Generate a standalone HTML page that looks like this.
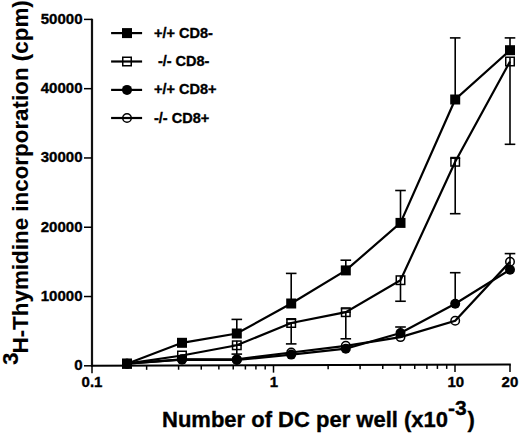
<!DOCTYPE html><html><head><meta charset="utf-8"><style>html,body{margin:0;padding:0;background:#fff;}svg{display:block;}text{font-family:"Liberation Sans",sans-serif;font-weight:bold;fill:#000;stroke:#000;stroke-width:0.35px;}</style></head><body>
<svg width="520" height="433" viewBox="0 0 520 433">
<rect width="520" height="433" fill="#fff"/>
<line x1="92.0" y1="18.7" x2="92.0" y2="366.80" stroke="#111" stroke-width="2.2"/>
<line x1="91.0" y1="365.80" x2="510.8" y2="364.50" stroke="#000" stroke-width="2.0"/>
<g stroke="#000" stroke-width="1.5">
<line x1="84.0" y1="365.80" x2="92.0" y2="365.80"/>
<line x1="84.0" y1="296.52" x2="92.0" y2="296.52"/>
<line x1="84.0" y1="227.24" x2="92.0" y2="227.24"/>
<line x1="84.0" y1="157.96" x2="92.0" y2="157.96"/>
<line x1="84.0" y1="88.68" x2="92.0" y2="88.68"/>
<line x1="84.0" y1="19.40" x2="92.0" y2="19.40"/>
</g>
<g stroke="#000" stroke-width="1.5">
<line x1="92.00" y1="365.80" x2="92.00" y2="373.20"/>
<line x1="146.64" y1="365.63" x2="146.64" y2="369.83"/>
<line x1="178.60" y1="365.53" x2="178.60" y2="369.73"/>
<line x1="201.27" y1="365.46" x2="201.27" y2="369.66"/>
<line x1="218.86" y1="365.40" x2="218.86" y2="369.60"/>
<line x1="233.23" y1="365.36" x2="233.23" y2="369.56"/>
<line x1="245.39" y1="365.32" x2="245.39" y2="369.52"/>
<line x1="255.91" y1="365.29" x2="255.91" y2="369.49"/>
<line x1="265.20" y1="365.26" x2="265.20" y2="369.46"/>
<line x1="273.50" y1="365.24" x2="273.50" y2="372.64"/>
<line x1="328.14" y1="365.07" x2="328.14" y2="369.27"/>
<line x1="360.10" y1="364.97" x2="360.10" y2="369.17"/>
<line x1="382.77" y1="364.90" x2="382.77" y2="369.10"/>
<line x1="400.36" y1="364.84" x2="400.36" y2="369.04"/>
<line x1="414.73" y1="364.80" x2="414.73" y2="369.00"/>
<line x1="426.89" y1="364.76" x2="426.89" y2="368.96"/>
<line x1="437.41" y1="364.73" x2="437.41" y2="368.93"/>
<line x1="446.70" y1="364.70" x2="446.70" y2="368.90"/>
<line x1="455.00" y1="364.67" x2="455.00" y2="372.07"/>
<line x1="510.00" y1="364.50" x2="510.00" y2="371.90"/>
</g>
<text x="82.5" y="370.20" font-size="15" text-anchor="end">0</text>
<text x="82.5" y="300.92" font-size="15" text-anchor="end">10000</text>
<text x="82.5" y="231.64" font-size="15" text-anchor="end">20000</text>
<text x="82.5" y="162.36" font-size="15" text-anchor="end">30000</text>
<text x="82.5" y="93.08" font-size="15" text-anchor="end">40000</text>
<text x="82.5" y="23.80" font-size="15" text-anchor="end">50000</text>
<text x="92.00" y="387.3" font-size="15" text-anchor="middle">0.1</text>
<text x="274.00" y="387.3" font-size="15" text-anchor="middle">1</text>
<text x="455.80" y="387.3" font-size="15" text-anchor="middle">10</text>
<text x="509.94" y="387.3" font-size="15" text-anchor="middle">20</text>
<text x="162" y="427.3" font-size="22">Number of DC per well (x10<tspan dy="-12" font-size="21">-3</tspan><tspan dy="12" dx="0.8">)</tspan></text>
<text transform="translate(28.3,364.9) rotate(-90)" font-size="22.4" style="stroke-width:0.1px"><tspan dy="-10.5">3</tspan><tspan dy="10.5" dx="-1.05">H-Thymidine incorporation (cpm)</tspan></text>
<line x1="236.80" y1="333.50" x2="236.80" y2="319.40" stroke="#000" stroke-width="1.6"/><line x1="231.50" y1="319.40" x2="242.10" y2="319.40" stroke="#000" stroke-width="1.6"/>
<line x1="291.20" y1="303.50" x2="291.20" y2="273.40" stroke="#000" stroke-width="1.6"/><line x1="285.90" y1="273.40" x2="296.50" y2="273.40" stroke="#000" stroke-width="1.6"/>
<line x1="345.80" y1="270.40" x2="345.80" y2="260.20" stroke="#000" stroke-width="1.6"/><line x1="340.50" y1="260.20" x2="351.10" y2="260.20" stroke="#000" stroke-width="1.6"/>
<line x1="400.50" y1="222.90" x2="400.50" y2="190.50" stroke="#000" stroke-width="1.6"/><line x1="395.20" y1="190.50" x2="405.80" y2="190.50" stroke="#000" stroke-width="1.6"/>
<line x1="455.20" y1="99.50" x2="455.20" y2="37.90" stroke="#000" stroke-width="1.6"/><line x1="449.90" y1="37.90" x2="460.50" y2="37.90" stroke="#000" stroke-width="1.6"/>
<line x1="510.00" y1="50.20" x2="510.00" y2="37.90" stroke="#000" stroke-width="1.6"/><line x1="504.70" y1="37.90" x2="515.30" y2="37.90" stroke="#000" stroke-width="1.6"/>
<line x1="236.80" y1="340.80" x2="236.80" y2="354.10" stroke="#000" stroke-width="1.6"/><line x1="231.50" y1="354.10" x2="242.10" y2="354.10" stroke="#000" stroke-width="1.6"/>
<line x1="291.20" y1="323.00" x2="291.20" y2="343.90" stroke="#000" stroke-width="1.6"/><line x1="285.90" y1="343.90" x2="296.50" y2="343.90" stroke="#000" stroke-width="1.6"/>
<line x1="345.80" y1="312.20" x2="345.80" y2="338.80" stroke="#000" stroke-width="1.6"/><line x1="340.50" y1="338.80" x2="351.10" y2="338.80" stroke="#000" stroke-width="1.6"/>
<line x1="400.50" y1="275.70" x2="400.50" y2="301.25" stroke="#000" stroke-width="1.6"/><line x1="395.20" y1="301.25" x2="405.80" y2="301.25" stroke="#000" stroke-width="1.6"/>
<line x1="455.20" y1="157.30" x2="455.20" y2="213.70" stroke="#000" stroke-width="1.6"/><line x1="449.90" y1="213.70" x2="460.50" y2="213.70" stroke="#000" stroke-width="1.6"/>
<line x1="510.00" y1="57.00" x2="510.00" y2="144.30" stroke="#000" stroke-width="1.6"/><line x1="504.70" y1="144.30" x2="515.30" y2="144.30" stroke="#000" stroke-width="1.6"/>
<line x1="286.20" y1="319.60" x2="296.20" y2="319.60" stroke="#000" stroke-width="1.1"/>
<line x1="340.80" y1="308.80" x2="350.80" y2="308.80" stroke="#000" stroke-width="1.1"/>
<line x1="450.20" y1="158.40" x2="460.20" y2="158.40" stroke="#000" stroke-width="1.1"/>
<line x1="231.80" y1="345.30" x2="241.80" y2="345.30" stroke="#000" stroke-width="1.4"/>
<line x1="286.20" y1="323.00" x2="296.20" y2="323.00" stroke="#000" stroke-width="1.4"/>
<line x1="340.80" y1="312.20" x2="350.80" y2="312.20" stroke="#000" stroke-width="1.4"/>
<line x1="400.50" y1="333.00" x2="400.50" y2="327.00" stroke="#000" stroke-width="1.6"/><line x1="395.20" y1="327.00" x2="405.80" y2="327.00" stroke="#000" stroke-width="1.6"/>
<line x1="455.20" y1="303.70" x2="455.20" y2="272.70" stroke="#000" stroke-width="1.6"/><line x1="449.90" y1="272.70" x2="460.50" y2="272.70" stroke="#000" stroke-width="1.6"/>
<line x1="510.00" y1="269.70" x2="510.00" y2="253.60" stroke="#000" stroke-width="1.6"/><line x1="504.70" y1="253.60" x2="515.30" y2="253.60" stroke="#000" stroke-width="1.6"/>
<polyline points="127.00,363.70 182.00,359.30 236.80,359.40 291.20,352.50 345.80,345.80 400.50,337.10 455.20,320.80 510.00,261.80" fill="none" stroke="#000" stroke-width="2.2" stroke-linejoin="miter"/>
<polyline points="127.00,363.70 182.00,359.60 236.80,360.00 291.20,354.60 345.80,348.70 400.50,333.00 455.20,303.70 510.00,269.70" fill="none" stroke="#000" stroke-width="2.2" stroke-linejoin="miter"/>
<polyline points="127.00,363.70 182.00,355.50 236.80,345.30 291.20,323.00 345.80,312.20 400.50,280.20 455.20,161.80 510.00,61.50" fill="none" stroke="#000" stroke-width="2.2" stroke-linejoin="miter"/>
<polyline points="127.00,363.70 182.00,342.80 236.80,333.50 291.20,303.50 345.80,270.40 400.50,222.90 455.20,99.50 510.00,50.20" fill="none" stroke="#000" stroke-width="2.2" stroke-linejoin="miter"/>
<circle cx="127.00" cy="363.70" r="4.25" fill="none" stroke="#000" stroke-width="1.5"/>
<circle cx="182.00" cy="359.30" r="4.25" fill="none" stroke="#000" stroke-width="1.5"/>
<circle cx="236.80" cy="359.40" r="4.25" fill="none" stroke="#000" stroke-width="1.5"/>
<circle cx="291.20" cy="352.50" r="4.25" fill="none" stroke="#000" stroke-width="1.5"/>
<circle cx="345.80" cy="345.80" r="4.25" fill="none" stroke="#000" stroke-width="1.5"/>
<circle cx="400.50" cy="337.10" r="4.25" fill="none" stroke="#000" stroke-width="1.5"/>
<circle cx="455.20" cy="320.80" r="4.25" fill="none" stroke="#000" stroke-width="1.5"/>
<circle cx="510.00" cy="261.80" r="4.25" fill="none" stroke="#000" stroke-width="1.5"/>
<circle cx="127.00" cy="363.70" r="5.0" fill="#000"/>
<circle cx="182.00" cy="359.60" r="5.0" fill="#000"/>
<circle cx="236.80" cy="360.00" r="5.0" fill="#000"/>
<circle cx="291.20" cy="354.60" r="5.0" fill="#000"/>
<circle cx="345.80" cy="348.70" r="5.0" fill="#000"/>
<circle cx="400.50" cy="333.00" r="5.0" fill="#000"/>
<circle cx="455.20" cy="303.70" r="5.0" fill="#000"/>
<circle cx="510.00" cy="269.70" r="5.0" fill="#000"/>
<rect x="122.75" y="359.45" width="8.5" height="8.5" fill="none" stroke="#000" stroke-width="1.5"/>
<rect x="177.75" y="351.25" width="8.5" height="8.5" fill="none" stroke="#000" stroke-width="1.5"/>
<rect x="232.55" y="341.05" width="8.5" height="8.5" fill="none" stroke="#000" stroke-width="1.5"/>
<rect x="286.95" y="318.75" width="8.5" height="8.5" fill="none" stroke="#000" stroke-width="1.5"/>
<rect x="341.55" y="307.95" width="8.5" height="8.5" fill="none" stroke="#000" stroke-width="1.5"/>
<rect x="396.25" y="275.95" width="8.5" height="8.5" fill="none" stroke="#000" stroke-width="1.5"/>
<rect x="450.95" y="157.55" width="8.5" height="8.5" fill="none" stroke="#000" stroke-width="1.5"/>
<rect x="505.75" y="57.25" width="8.5" height="8.5" fill="none" stroke="#000" stroke-width="1.5"/>
<rect x="122.00" y="358.70" width="10.0" height="10.0" fill="#000"/>
<rect x="177.00" y="337.80" width="10.0" height="10.0" fill="#000"/>
<rect x="231.80" y="328.50" width="10.0" height="10.0" fill="#000"/>
<rect x="286.20" y="298.50" width="10.0" height="10.0" fill="#000"/>
<rect x="340.80" y="265.40" width="10.0" height="10.0" fill="#000"/>
<rect x="395.50" y="217.90" width="10.0" height="10.0" fill="#000"/>
<rect x="450.20" y="94.50" width="10.0" height="10.0" fill="#000"/>
<rect x="505.00" y="45.20" width="10.0" height="10.0" fill="#000"/>
<line x1="111.1" y1="33.1" x2="142.1" y2="33.1" stroke="#000" stroke-width="2.2"/>
<rect x="122.00" y="28.10" width="10.0" height="10.0" fill="#000"/>
<text x="154.0" y="37.60" font-size="14.5">+/+ CD8-</text>
<line x1="111.1" y1="61.5" x2="142.1" y2="61.5" stroke="#000" stroke-width="2.2"/>
<rect x="122.75" y="57.25" width="8.5" height="8.5" fill="none" stroke="#000" stroke-width="1.5"/>
<text x="157.9" y="66.00" font-size="14.5">-/- CD8-</text>
<line x1="111.1" y1="89.9" x2="142.1" y2="89.9" stroke="#000" stroke-width="2.2"/>
<circle cx="127.00" cy="89.90" r="5.0" fill="#000"/>
<text x="154.0" y="94.40" font-size="14.5">+/+ CD8+</text>
<line x1="111.1" y1="118.0" x2="142.1" y2="118.0" stroke="#000" stroke-width="2.2"/>
<circle cx="127.00" cy="118.00" r="4.25" fill="none" stroke="#000" stroke-width="1.5"/>
<text x="154.0" y="122.50" font-size="14.5">-/- CD8+</text>
</svg></body></html>
